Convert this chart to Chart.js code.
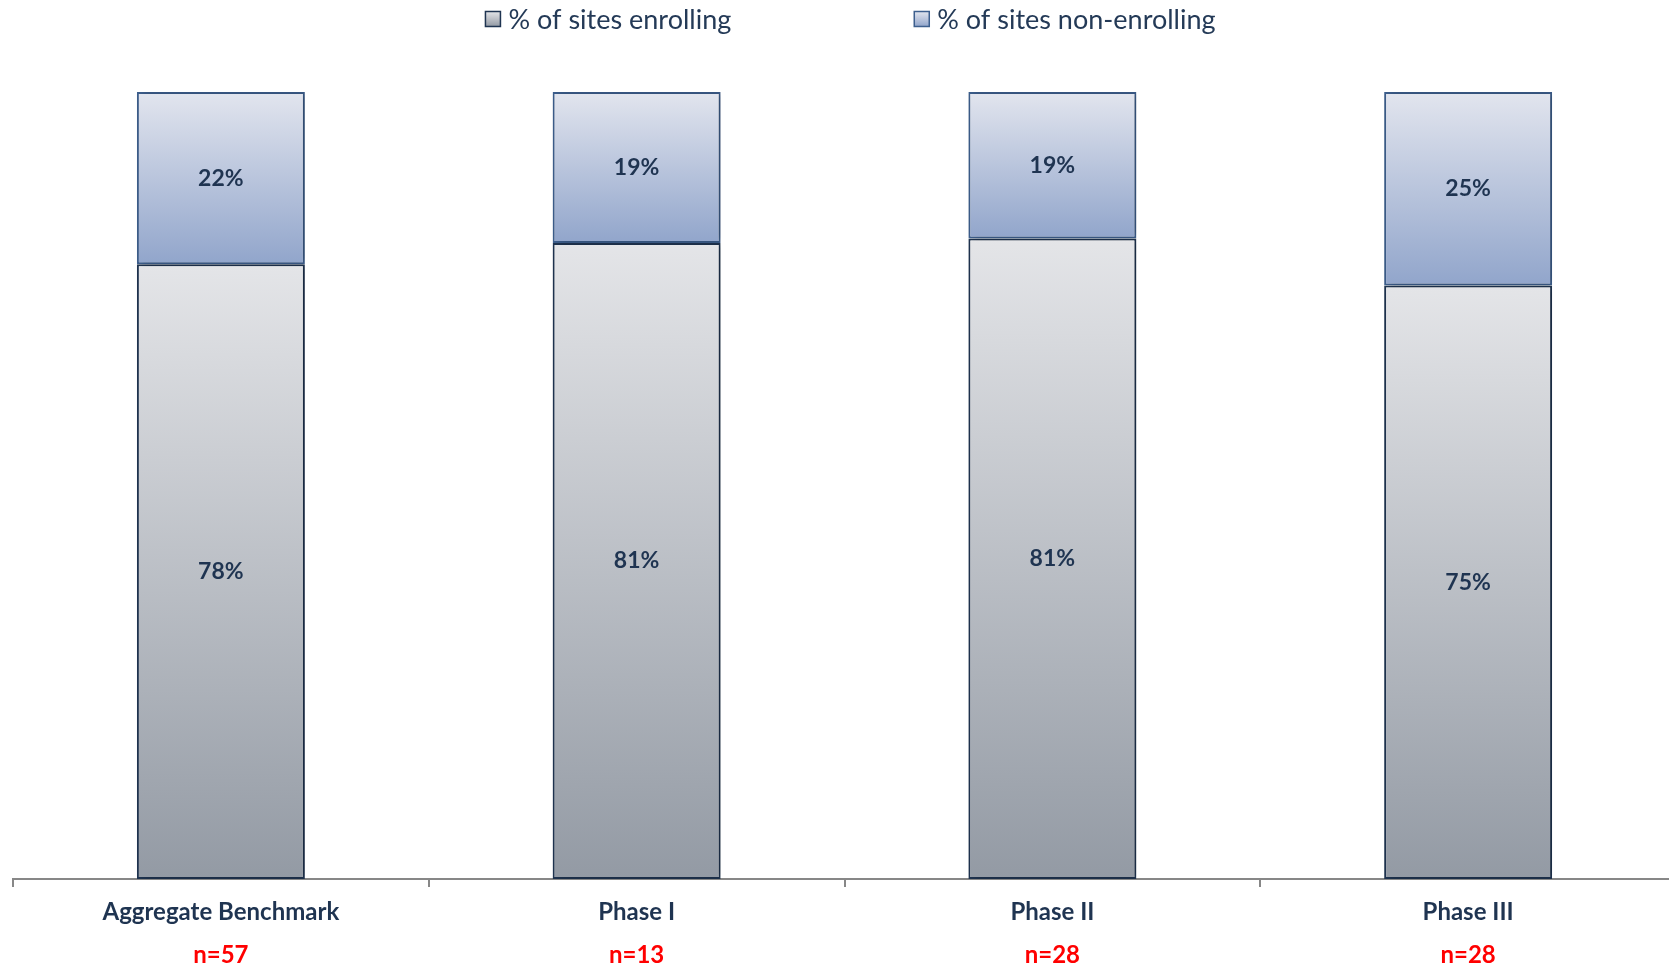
<!DOCTYPE html>
<html>
<head>
<meta charset="utf-8">
<script src="https://cdn.jsdelivr.net/npm/chart.js@4.4.0/dist/chart.umd.min.js"></script>
<style>
  html, body { margin: 0; padding: 0; background: #fff; overflow: hidden; }
  #wrap { position: relative; width: 1676px; height: 968px; }
</style>
</head>
<body>
<div id="wrap"><canvas id="chart"></canvas></div>
<script>
const categories = ['Aggregate Benchmark', 'Phase I', 'Phase II', 'Phase III'];
const sampleSizes = ['n=57', 'n=13', 'n=28', 'n=28'];
const seriesNames = ['% of sites enrolling', '% of sites non-enrolling'];
const enrolling = [78.1, 80.8, 81.4, 75.4];
const nonEnrolling = [21.9, 19.2, 18.6, 24.6];

const navy = '#1f3451';
const fontFamily = 'Lato, "Open Sans", sans-serif';

// gradient stops for each series, top -> bottom
const enrollGrad = ['#e4e5e8', '#939aa4'];
const nonEnrollGrad = ['#e2e5ee', '#91a5cb'];

function segmentGradient(stops) {
  return (context) => {
    const chart = context.chart;
    const y = chart.scales.y;
    if (!y || context.dataIndex === undefined) return stops[1];
    let base = 0;
    for (let i = 0; i < context.datasetIndex; i++) {
      base += chart.data.datasets[i].data[context.dataIndex];
    }
    const top = y.getPixelForValue(base + context.raw);
    const bottom = y.getPixelForValue(base);
    if (!isFinite(top) || !isFinite(bottom)) return stops[1];
    const g = chart.ctx.createLinearGradient(0, top, 0, bottom);
    g.addColorStop(0, stops[0]);
    g.addColorStop(1, stops[1]);
    return g;
  };
}

// soft drop shadow behind the bars
const barShadow = {
  id: 'barShadow',
  beforeDatasetsDraw(chart) {
    const ctx = chart.ctx;
    ctx.save();
    ctx.shadowColor = 'rgba(0,0,0,0.28)';
    ctx.shadowBlur = 8;
    ctx.shadowOffsetX = 3;
  },
  afterDatasetsDraw(chart) {
    chart.ctx.restore();
  }
};

// percentage labels in the middle of each segment
const segmentLabels = {
  id: 'segmentLabels',
  afterDatasetsDraw(chart) {
    const ctx = chart.ctx;
    ctx.save();
    ctx.font = 'bold 23px ' + fontFamily;
    ctx.fillStyle = navy;
    ctx.textAlign = 'center';
    ctx.textBaseline = 'middle';
    chart.data.datasets.forEach((ds, di) => {
      chart.getDatasetMeta(di).data.forEach((bar, i) => {
        ctx.fillText(Math.round(ds.data[i]) + '%', bar.x, (bar.y + bar.base) / 2);
      });
    });
    ctx.restore();
  }
};

// legend across the top, spaced wide like the original
const topLegend = {
  id: 'topLegend',
  afterDraw(chart) {
    const ctx = chart.ctx;
    const box = 15, gap = 8, spacing = 183, cy = 19;
    ctx.save();
    ctx.font = '27px ' + fontFamily;
    const widths = seriesNames.map(t => ctx.measureText(t).width);
    const total = widths.reduce((a, w) => a + box + gap + w, 0) + spacing;
    let x = (chart.chartArea.left + chart.chartArea.right) / 2 + 6 - total / 2;
    const borders = [navy, '#3d5f8e'];
    [enrollGrad, nonEnrollGrad].forEach((stops, i) => {
      const g = ctx.createLinearGradient(0, cy - box / 2, 0, cy + box / 2);
      g.addColorStop(0, stops[0]);
      g.addColorStop(1, stops[1]);
      ctx.fillStyle = g;
      ctx.fillRect(x, cy - box / 2, box, box);
      ctx.strokeStyle = borders[i];
      ctx.lineWidth = 1.5;
      ctx.strokeRect(x, cy - box / 2, box, box);
      ctx.fillStyle = '#243a57';
      ctx.textBaseline = 'middle';
      ctx.textAlign = 'left';
      ctx.fillText(seriesNames[i], x + box + gap, cy + 1);
      x += box + gap + widths[i] + spacing;
    });
    ctx.restore();
  }
};

const tickFont = { family: fontFamily, size: 24, weight: 'bold' };

new Chart(document.getElementById('chart'), {
  type: 'bar',
  data: {
    labels: categories,
    datasets: [
      {
        label: seriesNames[0],
        data: enrolling,
        backgroundColor: segmentGradient(enrollGrad),
        borderColor: navy,
        borderWidth: 2,
        borderSkipped: false
      },
      {
        label: seriesNames[1],
        data: nonEnrolling,
        backgroundColor: segmentGradient(nonEnrollGrad),
        borderColor: '#3d5f8e',
        borderWidth: 2,
        borderSkipped: false
      }
    ]
  },
  plugins: [barShadow, segmentLabels, topLegend],
  options: {
    responsive: true,
    maintainAspectRatio: false,
    animation: false,
    datasets: { bar: { categoryPercentage: 1, barPercentage: 0.404 } },
    layout: { padding: { top: 92, left: 13, right: 0, bottom: 0 } },
    plugins: { legend: { display: false }, tooltip: { enabled: false } },
    scales: {
      x: {
        stacked: true,
        offset: true,
        grid: { offset: true, drawOnChartArea: false, tickLength: 8, color: '#878787', lineWidth: 2 },
        border: { display: true, color: '#878787', width: 2 },
        ticks: { color: navy, font: tickFont, padding: 11, maxRotation: 0, autoSkip: false },
        afterFit(scale) { scale.height = 58; }
      },
      x2: {
        type: 'category',
        labels: sampleSizes,
        position: 'bottom',
        offset: true,
        grid: { display: false, drawTicks: false },
        border: { display: false },
        ticks: { color: '#ff0000', font: tickFont, padding: 4, maxRotation: 0, autoSkip: false },
        afterFit(scale) { scale.height = 31; }
      },
      y: { stacked: true, display: false, min: 0, max: 100 }
    }
  }
});
</script>
</body>
</html>
